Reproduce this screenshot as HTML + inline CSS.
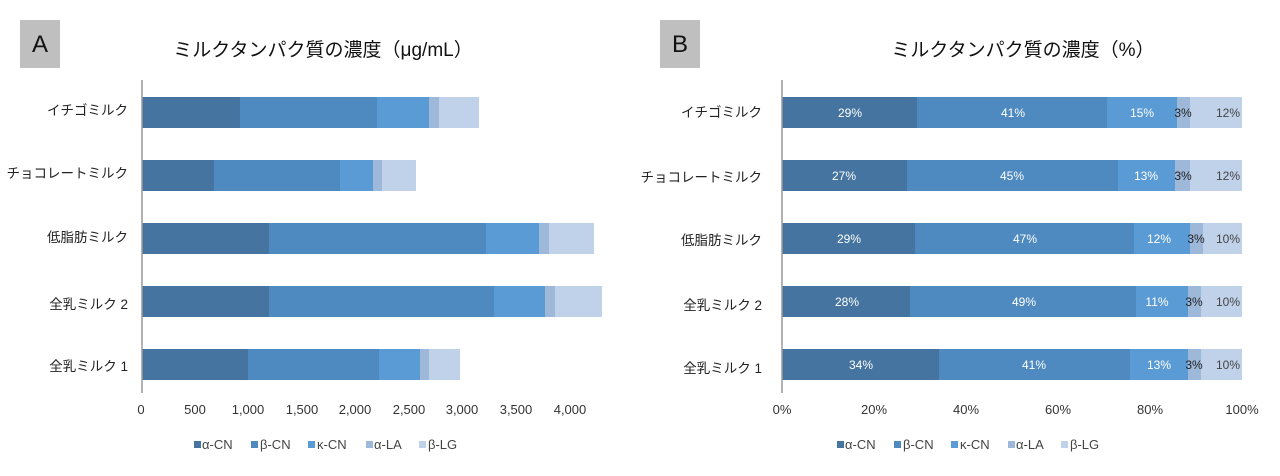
<!DOCTYPE html>
<html><head><meta charset="utf-8"><style>
body{margin:0;background:#fff}
svg text{font-family:"Liberation Sans","Noto Sans CJK JP",sans-serif}
</style></head><body>
<svg width="1280" height="471" viewBox="0 0 1280 471" xmlns="http://www.w3.org/2000/svg">
<rect width="1280" height="471" fill="#fff"/>
<rect x="20" y="20" width="40" height="48" fill="#c0bfbf"/>
<text x="40" y="52" font-size="24" text-anchor="middle" fill="#111">A</text>
<rect x="660" y="20" width="40" height="48" fill="#c0bfbf"/>
<text x="680" y="52" font-size="24" text-anchor="middle" fill="#111">B</text>
<text x="323" y="56" font-size="19" text-anchor="middle" fill="#111">ミルクタンパク質の濃度（μg/mL）</text>
<text x="1023" y="56" font-size="19" text-anchor="middle" fill="#111">ミルクタンパク質の濃度（%）</text>

<g id="A">
<g>
<rect x="142" y="97" width="98" height="31" fill="#44749f"/><rect x="240" y="97" width="137" height="31" fill="#4e89bf"/><rect x="377" y="97" width="52" height="31" fill="#5b9bd5"/><rect x="429" y="97" width="10" height="31" fill="#9db8d9"/><rect x="439" y="97" width="40" height="31" fill="#c0d1ea"/>
<rect x="142" y="160" width="72" height="31" fill="#44749f"/><rect x="214" y="160" width="126" height="31" fill="#4e89bf"/><rect x="340" y="160" width="33" height="31" fill="#5b9bd5"/><rect x="373" y="160" width="9" height="31" fill="#9db8d9"/><rect x="382" y="160" width="34" height="31" fill="#c0d1ea"/>
<rect x="142" y="223" width="127" height="31" fill="#44749f"/><rect x="269" y="223" width="217" height="31" fill="#4e89bf"/><rect x="486" y="223" width="53" height="31" fill="#5b9bd5"/><rect x="539" y="223" width="10" height="31" fill="#9db8d9"/><rect x="549" y="223" width="45" height="31" fill="#c0d1ea"/>
<rect x="142" y="286" width="127" height="31" fill="#44749f"/><rect x="269" y="286" width="225" height="31" fill="#4e89bf"/><rect x="494" y="286" width="51" height="31" fill="#5b9bd5"/><rect x="545" y="286" width="10" height="31" fill="#9db8d9"/><rect x="555" y="286" width="47" height="31" fill="#c0d1ea"/>
<rect x="142" y="349" width="106" height="31" fill="#44749f"/><rect x="248" y="349" width="131" height="31" fill="#4e89bf"/><rect x="379" y="349" width="41" height="31" fill="#5b9bd5"/><rect x="420" y="349" width="9" height="31" fill="#9db8d9"/><rect x="429" y="349" width="31" height="31" fill="#c0d1ea"/>
</g>
<line x1="142" y1="80" x2="142" y2="393" stroke="#999" stroke-width="1.5"/>
<g font-size="13.5" fill="#222" text-anchor="end">
<text x="128" y="115">イチゴミルク</text><text x="128" y="178">チョコレートミルク</text><text x="128" y="242">低脂肪ミルク</text><text x="128" y="309">全乳ミルク 2</text><text x="128" y="371">全乳ミルク 1</text>
</g>
<g font-size="13" fill="#333" text-anchor="middle">
<text x="141" y="414">0</text><text x="195" y="414">500</text><text x="248" y="414">1,000</text><text x="302" y="414">1,500</text><text x="355" y="414">2,000</text><text x="409" y="414">2,500</text><text x="462" y="414">3,000</text><text x="516" y="414">3,500</text><text x="570" y="414">4,000</text>
</g>
<g font-size="13" fill="#444">
<rect x="194" y="441" width="7" height="7" fill="#44749f"/><text x="202" y="449">α-CN</text>
<rect x="251" y="441" width="7" height="7" fill="#4e89bf"/><text x="260" y="449">β-CN</text>
<rect x="308" y="441" width="7" height="7" fill="#5b9bd5"/><text x="317" y="449">κ-CN</text>
<rect x="366" y="441" width="7" height="7" fill="#9db8d9"/><text x="374" y="449">α-LA</text>
<rect x="419" y="441" width="7" height="7" fill="#c0d1ea"/><text x="428" y="449">β-LG</text>
</g>
</g>

<g id="B">
<rect x="782" y="97" width="135" height="31" fill="#44749f"/><rect x="917" y="97" width="190" height="31" fill="#4e89bf"/><rect x="1107" y="97" width="70" height="31" fill="#5b9bd5"/><rect x="1177" y="97" width="13" height="31" fill="#9db8d9"/><rect x="1190" y="97" width="52" height="31" fill="#c0d1ea"/>
<rect x="782" y="160" width="125" height="31" fill="#44749f"/><rect x="907" y="160" width="211" height="31" fill="#4e89bf"/><rect x="1118" y="160" width="57" height="31" fill="#5b9bd5"/><rect x="1175" y="160" width="15" height="31" fill="#9db8d9"/><rect x="1190" y="160" width="52" height="31" fill="#c0d1ea"/>
<rect x="782" y="223" width="133" height="31" fill="#44749f"/><rect x="915" y="223" width="219" height="31" fill="#4e89bf"/><rect x="1134" y="223" width="56" height="31" fill="#5b9bd5"/><rect x="1190" y="223" width="13" height="31" fill="#9db8d9"/><rect x="1203" y="223" width="39" height="31" fill="#c0d1ea"/>
<rect x="782" y="286" width="128" height="31" fill="#44749f"/><rect x="910" y="286" width="226" height="31" fill="#4e89bf"/><rect x="1136" y="286" width="52" height="31" fill="#5b9bd5"/><rect x="1188" y="286" width="13" height="31" fill="#9db8d9"/><rect x="1201" y="286" width="41" height="31" fill="#c0d1ea"/>
<rect x="782" y="349" width="157" height="31" fill="#44749f"/><rect x="939" y="349" width="191" height="31" fill="#4e89bf"/><rect x="1130" y="349" width="58" height="31" fill="#5b9bd5"/><rect x="1188" y="349" width="13" height="31" fill="#9db8d9"/><rect x="1201" y="349" width="41" height="31" fill="#c0d1ea"/>
<line x1="782" y1="80" x2="782" y2="393" stroke="#999" stroke-width="1.5"/>
<g font-size="12" text-anchor="middle">
<g fill="#fff">
<text x="850" y="117">29%</text><text x="1013" y="117">41%</text><text x="1142" y="117">15%</text>
<text x="844" y="180">27%</text><text x="1012" y="180">45%</text><text x="1146" y="180">13%</text>
<text x="849" y="243">29%</text><text x="1025" y="243">47%</text><text x="1159" y="243">12%</text>
<text x="847" y="306">28%</text><text x="1024" y="306">49%</text><text x="1157" y="306">11%</text>
<text x="861" y="369">34%</text><text x="1034" y="369">41%</text><text x="1159" y="369">13%</text>
</g>
<g fill="#222">
<text x="1183" y="117">3%</text><text x="1183" y="180">3%</text><text x="1196" y="243">3%</text><text x="1194" y="306">3%</text><text x="1194" y="369">3%</text>
</g>
<g fill="#444">
<text x="1228" y="117">12%</text><text x="1228" y="180">12%</text><text x="1228" y="243">10%</text><text x="1228" y="306">10%</text><text x="1228" y="369">10%</text>
</g>
</g>
<g font-size="13.5" fill="#222" text-anchor="end">
<text x="762" y="117">イチゴミルク</text><text x="762" y="182">チョコレートミルク</text><text x="762" y="245">低脂肪ミルク</text><text x="762" y="310">全乳ミルク 2</text><text x="762" y="373">全乳ミルク 1</text>
</g>
<g font-size="13" fill="#333" text-anchor="middle">
<text x="782" y="414">0%</text><text x="874" y="414">20%</text><text x="966" y="414">40%</text><text x="1058" y="414">60%</text><text x="1150" y="414">80%</text><text x="1242" y="414">100%</text>
</g>
<g font-size="13" fill="#444">
<rect x="837" y="441" width="7" height="7" fill="#44749f"/><text x="845" y="449">α-CN</text>
<rect x="894" y="441" width="7" height="7" fill="#4e89bf"/><text x="903" y="449">β-CN</text>
<rect x="951" y="441" width="7" height="7" fill="#5b9bd5"/><text x="960" y="449">κ-CN</text>
<rect x="1008" y="441" width="7" height="7" fill="#9db8d9"/><text x="1016" y="449">α-LA</text>
<rect x="1061" y="441" width="7" height="7" fill="#c0d1ea"/><text x="1070" y="449">β-LG</text>
</g>
</g>
</svg>
</body></html>
